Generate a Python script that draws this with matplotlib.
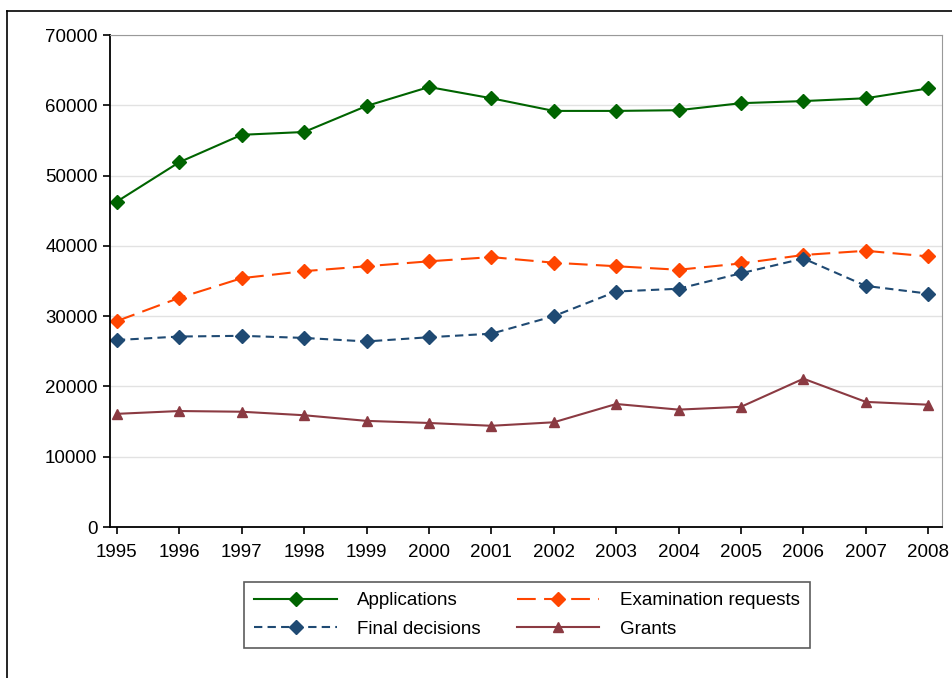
import matplotlib
matplotlib.use("Agg")
import matplotlib.pyplot as plt
from matplotlib.lines import Line2D

plt.rcParams['font.family'] = ['Liberation Sans', 'DejaVu Sans']

years = [1995, 1996, 1997, 1998, 1999, 2000, 2001, 2002, 2003, 2004, 2005, 2006, 2007, 2008]
applications = [46300, 51900, 55800, 56200, 59900, 62600, 61000, 59200, 59200, 59300, 60300, 60600, 61000, 62400]
exam_requests = [29300, 32600, 35400, 36400, 37100, 37800, 38400, 37600, 37100, 36600, 37500, 38700, 39300, 38500]
final_decisions = [26600, 27100, 27200, 26900, 26400, 27000, 27500, 30000, 33500, 33900, 36100, 38200, 34300, 33200]
grants = [16100, 16500, 16400, 15900, 15100, 14800, 14400, 14900, 17500, 16700, 17100, 21100, 17800, 17400]
yticks = [0, 10000, 20000, 30000, 40000, 50000, 60000, 70000]

fig = plt.figure(figsize=(9.52, 6.78), dpi=100)
ax = fig.add_axes([110/952, 1-527/678, (942-110)/952, (527-35)/678])

green = '#006400'
orange = '#FF4500'
navy = '#1F4A73'
maroon = '#8B3A42'

ax.plot(years, applications, color=green, lw=1.5, marker='D', ms=7.5, label='Applications')
ax.plot(years, exam_requests, color=orange, lw=1.5, marker='D', ms=7.5, dashes=(9, 4), label='Examination requests')
ax.plot(years, final_decisions, color=navy, lw=1.5, marker='D', ms=7.5, dashes=(4, 2.5), label='Final decisions')
ax.plot(years, grants, color=maroon, lw=1.5, marker='^', ms=7.5, label='Grants')

ax.set_xlim(1994.89, 2008.22)
ax.set_ylim(0, 70000)
ax.set_yticks(yticks)
ax.set_yticklabels([str(v) for v in yticks])
ax.set_xticks(years)
ax.set_xticklabels([str(y) for y in years])
ax.grid(axis='y', color='#e2e2e2', lw=1)
ax.set_axisbelow(True)
for s in ['top', 'right']:
    ax.spines[s].set_color('#999999')
for s in ['left', 'bottom']:
    ax.spines[s].set_color('black')
    ax.spines[s].set_linewidth(1.3)
ax.tick_params(axis='both', direction='out', length=5, width=1.2, labelsize=13.5, colors='black')
ax.tick_params(axis='y', pad=4)
ax.tick_params(axis='x', pad=7)

h, l = ax.get_legend_handles_labels()
order = [0, 2, 1, 3]
leg = fig.legend([h[i] for i in order], [l[i] for i in order], ncol=2,
                 loc='lower left', bbox_to_anchor=(244/952, 1-648/678, (810-244)/952, (648-572)/678),
                 mode='expand', fontsize=13.5, frameon=True, fancybox=False,
                 edgecolor='#333333', handlelength=4.4, handletextpad=1.1,
                 columnspacing=1.9, borderpad=0.55, labelspacing=0.6, borderaxespad=0)
leg.get_frame().set_linewidth(1.2)

fig.add_artist(Line2D([7/952, 7/952], [0, 1-11/678], color='black', lw=1.2, transform=fig.transFigure))
fig.add_artist(Line2D([7/952, 1], [1-11/678, 1-11/678], color='black', lw=1.2, transform=fig.transFigure))

fig.savefig('out.png', dpi=100)
